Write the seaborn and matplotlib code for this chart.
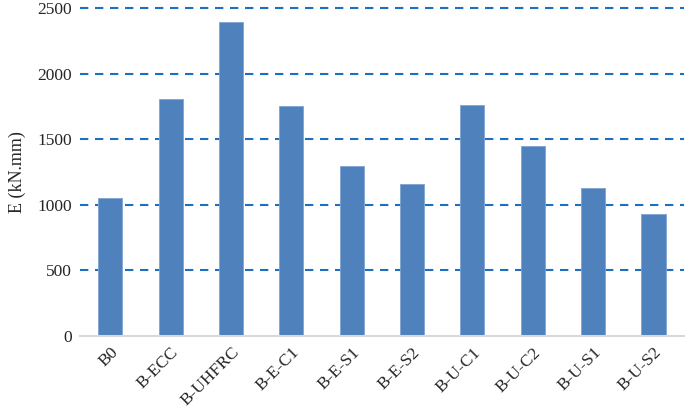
import pandas as pd
import matplotlib.pyplot as plt
import seaborn as sns

# Data
specimens = ['B0', 'B-ECC', 'B-UHFRC', 'B-E-C1', 'B-E-S1', 'B-E-S2',
             'B-U-C1', 'B-U-C2', 'B-U-S1', 'B-U-S2']
energy = [1052, 1809, 2396, 1753, 1296, 1156, 1763, 1451, 1126, 932]
y_ticks = [0, 500, 1000, 1500, 2000, 2500]

data = pd.DataFrame({'specimen': specimens, 'E': energy})

sns.set_style('white')
plt.rcParams['font.family'] = ['Liberation Serif', 'DejaVu Serif']

fig = plt.figure(figsize=(6.85, 4.18), dpi=100)
ax = fig.add_axes([0.117, 0.196, 0.881, 0.785])

# Dashed gridlines
for t in y_ticks[1:]:
    ax.axhline(t, color='#1f6fc0', linestyle=(0, (4, 3.2)), linewidth=1.5,
               zorder=0, clip_on=False)

sns.barplot(data=data, x='specimen', y='E', color='#4f81bd', width=0.4,
            saturation=1, edgecolor='#7ea3d3', linewidth=0.6, ax=ax, zorder=2)

ax.set_ylim(0, 2500)
ax.set_xlim(-0.5, len(specimens) - 0.5)
ax.set_yticks(y_ticks)
ax.set_yticklabels([str(t) for t in y_ticks], fontsize=12.5)
ax.set_xticks(range(len(specimens)))
ax.set_xticklabels(specimens, rotation=45, ha='right', rotation_mode='anchor', fontsize=12.5)
ax.tick_params(axis='both', length=0, pad=6)
ax.set_xlabel('')
ax.set_ylabel('E (kN.mm)', fontsize=13, labelpad=8)

for side in ['top', 'right', 'left']:
    ax.spines[side].set_visible(False)
ax.spines['bottom'].set_color('#d9d9d9')
ax.spines['bottom'].set_linewidth(1.5)
ax.spines['bottom'].set_zorder(3)

fig.savefig('out.png', dpi=100)
